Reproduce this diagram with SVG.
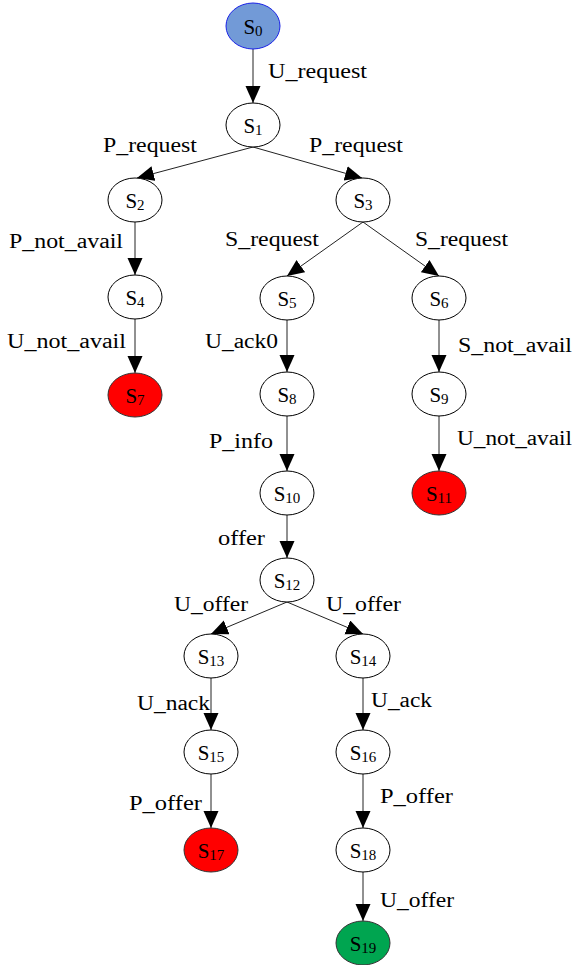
<svg xmlns="http://www.w3.org/2000/svg" width="573" height="965" viewBox="0 0 573 965">
<defs>
<style>
.n ellipse{fill:#fff;stroke:#000;stroke-width:1}
.n text{font-family:"Liberation Serif","Times New Roman",serif;font-size:21px;text-anchor:middle;fill:#000}
.n tspan{font-size:15px}
.red ellipse{fill:#ff0000;stroke:#333}
.start ellipse{fill:#729ad7;stroke:#1a22e6}
.goal ellipse{fill:#00a550;stroke:#333}
.e line{stroke:#222;stroke-width:1;marker-end:url(#ah)}
.lbl text{font-family:"Liberation Serif","Times New Roman",serif;font-size:20px;fill:#000}
</style>
<marker id="ah" markerUnits="userSpaceOnUse" markerWidth="18" markerHeight="16" refX="17" refY="7.5" orient="auto">
<path d="M0,0 L17,7.5 L0,15 z" fill="#000"/>
</marker>
</defs>
<rect width="573" height="965" fill="#fff"/>

<!-- transitions -->
<g id="edges" class="e">
<line x1="253" y1="49" x2="253" y2="103"/>
<line x1="253" y1="147" x2="137" y2="178"/>
<line x1="253" y1="147" x2="362" y2="178"/>
<line x1="135" y1="222" x2="135" y2="275"/>
<line x1="363" y1="222" x2="287" y2="276"/>
<line x1="363" y1="222" x2="439" y2="276"/>
<line x1="135" y1="319" x2="135" y2="373"/>
<line x1="287" y1="320" x2="287" y2="372"/>
<line x1="439" y1="320" x2="439" y2="372"/>
<line x1="287" y1="416" x2="287" y2="471"/>
<line x1="439" y1="416" x2="439" y2="471"/>
<line x1="287" y1="515" x2="287" y2="558"/>
<line x1="287" y1="602" x2="211" y2="634"/>
<line x1="287" y1="602" x2="363" y2="634"/>
<line x1="211" y1="678" x2="211" y2="730"/>
<line x1="363" y1="678" x2="363" y2="730"/>
<line x1="211" y1="774" x2="211" y2="828"/>
<line x1="363" y1="774" x2="363" y2="828"/>
<line x1="363" y1="872" x2="363" y2="921"/>
</g>

<!-- transition labels -->
<g id="labels" class="lbl">
<text x="268" y="78" textLength="99" lengthAdjust="spacingAndGlyphs">U_request</text>
<text x="103" y="152" textLength="94" lengthAdjust="spacingAndGlyphs">P_request</text>
<text x="309" y="152" textLength="94" lengthAdjust="spacingAndGlyphs">P_request</text>
<text x="9" y="248" textLength="114" lengthAdjust="spacingAndGlyphs">P_not_avail</text>
<text x="225" y="246" textLength="94" lengthAdjust="spacingAndGlyphs">S_request</text>
<text x="415" y="246" textLength="93" lengthAdjust="spacingAndGlyphs">S_request</text>
<text x="7" y="348" textLength="119" lengthAdjust="spacingAndGlyphs">U_not_avail</text>
<text x="205" y="348" textLength="73" lengthAdjust="spacingAndGlyphs">U_ack0</text>
<text x="458" y="352" textLength="114" lengthAdjust="spacingAndGlyphs">S_not_avail</text>
<text x="209" y="448" textLength="64" lengthAdjust="spacingAndGlyphs">P_info</text>
<text x="457" y="445" textLength="115" lengthAdjust="spacingAndGlyphs">U_not_avail</text>
<text x="218" y="545" textLength="47" lengthAdjust="spacingAndGlyphs">offer</text>
<text x="174" y="611" textLength="74" lengthAdjust="spacingAndGlyphs">U_offer</text>
<text x="326" y="611" textLength="75" lengthAdjust="spacingAndGlyphs">U_offer</text>
<text x="137" y="710" textLength="73" lengthAdjust="spacingAndGlyphs">U_nack</text>
<text x="371" y="707" textLength="61" lengthAdjust="spacingAndGlyphs">U_ack</text>
<text x="129" y="810" textLength="73" lengthAdjust="spacingAndGlyphs">P_offer</text>
<text x="380" y="803" textLength="73" lengthAdjust="spacingAndGlyphs">P_offer</text>
<text x="380" y="907" textLength="74" lengthAdjust="spacingAndGlyphs">U_offer</text>
</g>

<!-- states -->
<g id="S0" class="n start"><ellipse cx="253" cy="26" rx="27" ry="23"/><text x="253" y="34">S<tspan dy="2">0</tspan></text></g>
<g id="S1" class="n"><ellipse cx="253" cy="125" rx="27" ry="22"/><text x="253" y="133">S<tspan dy="2">1</tspan></text></g>
<g id="S2" class="n"><ellipse cx="135" cy="200" rx="27" ry="22"/><text x="135" y="208">S<tspan dy="2">2</tspan></text></g>
<g id="S3" class="n"><ellipse cx="363" cy="200" rx="27" ry="22"/><text x="363" y="208">S<tspan dy="2">3</tspan></text></g>
<g id="S4" class="n"><ellipse cx="135" cy="297" rx="27" ry="22"/><text x="135" y="305">S<tspan dy="2">4</tspan></text></g>
<g id="S5" class="n"><ellipse cx="287" cy="298" rx="27" ry="22"/><text x="287" y="306">S<tspan dy="2">5</tspan></text></g>
<g id="S6" class="n"><ellipse cx="439" cy="298" rx="27" ry="22"/><text x="439" y="306">S<tspan dy="2">6</tspan></text></g>
<g id="S7" class="n red"><ellipse cx="135" cy="395" rx="27" ry="22"/><text x="135" y="403">S<tspan dy="2">7</tspan></text></g>
<g id="S8" class="n"><ellipse cx="287" cy="394" rx="27" ry="22"/><text x="287" y="402">S<tspan dy="2">8</tspan></text></g>
<g id="S9" class="n"><ellipse cx="439" cy="394" rx="27" ry="22"/><text x="439" y="402">S<tspan dy="2">9</tspan></text></g>
<g id="S10" class="n"><ellipse cx="287" cy="493" rx="27" ry="22"/><text x="287" y="501">S<tspan dy="2">10</tspan></text></g>
<g id="S11" class="n red"><ellipse cx="439" cy="493" rx="27" ry="22"/><text x="439" y="501">S<tspan dy="2">11</tspan></text></g>
<g id="S12" class="n"><ellipse cx="287" cy="580" rx="27" ry="22"/><text x="287" y="588">S<tspan dy="2">12</tspan></text></g>
<g id="S13" class="n"><ellipse cx="211" cy="656" rx="27" ry="22"/><text x="211" y="664">S<tspan dy="2">13</tspan></text></g>
<g id="S14" class="n"><ellipse cx="363" cy="656" rx="27" ry="22"/><text x="363" y="664">S<tspan dy="2">14</tspan></text></g>
<g id="S15" class="n"><ellipse cx="211" cy="752" rx="27" ry="22"/><text x="211" y="760">S<tspan dy="2">15</tspan></text></g>
<g id="S16" class="n"><ellipse cx="363" cy="752" rx="27" ry="22"/><text x="363" y="760">S<tspan dy="2">16</tspan></text></g>
<g id="S17" class="n red"><ellipse cx="211" cy="850" rx="27" ry="22"/><text x="211" y="858">S<tspan dy="2">17</tspan></text></g>
<g id="S18" class="n"><ellipse cx="363" cy="850" rx="27" ry="22"/><text x="363" y="858">S<tspan dy="2">18</tspan></text></g>
<g id="S19" class="n goal"><ellipse cx="363" cy="943" rx="27" ry="22"/><text x="363" y="951">S<tspan dy="2">19</tspan></text></g>
</svg>
